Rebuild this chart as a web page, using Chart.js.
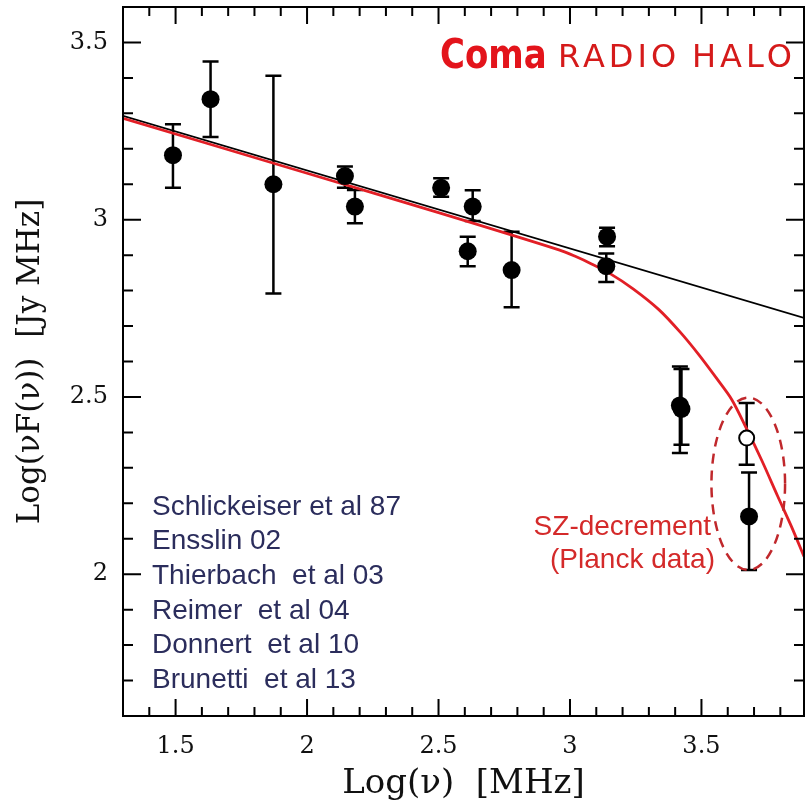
<!DOCTYPE html>
<html>
<head>
<meta charset="utf-8">
<script src="https://cdn.jsdelivr.net/npm/chart.js@4.4.1/dist/chart.umd.min.js"></script>
<style>
    html, body { margin: 0; padding: 0; background: #fff; overflow: hidden; }
    canvas { display: block; }
</style>
</head>
<body>
<canvas id="sed" width="805" height="808"></canvas>
<script>
// radio halo measurements (filled circles)
const obsX = [1.49, 1.633, 1.872, 2.144, 2.182, 2.51, 2.63, 2.611, 2.778, 3.141, 3.138, 3.418, 3.424, 3.681];
const obsY = [3.182, 3.34, 3.10, 3.123, 3.037, 3.09, 3.037, 2.911, 2.858, 2.952, 2.869, 2.476, 2.466, 2.163];
const obsHi = [3.269, 3.446, 3.406, 3.15, 3.084, 3.117, 3.083, 2.952, 2.966, 2.977, 2.905, 2.586, 2.579, 2.287];
const obsLo = [3.09, 3.233, 2.792, 3.09, 2.99, 3.065, 2.996, 2.869, 2.753, 2.925, 2.824, 2.342, 2.365, 2.012];

// SZ-corrected point (open circle)
const openX = [3.672];
const openY = [2.384];
const openHi = [2.483];
const openLo = [2.309];

// power law (black) and model with steepening (red)
const powerX = [1.3, 3.89];
const powerY = [3.293, 2.723];
const modelX = [1.3, 2.0, 2.5, 2.958, 3.022, 3.08, 3.148, 3.24, 3.337, 3.42, 3.489, 3.555, 3.615, 3.672, 3.73, 3.79, 3.842, 3.89];
const modelY = [3.286, 3.131, 3.02, 2.915, 2.896, 2.876, 2.85, 2.805, 2.747, 2.682, 2.62, 2.555, 2.493, 2.41, 2.32, 2.22, 2.135, 2.05];

const xTickVals = [1.5, 2, 2.5, 3, 3.5];
const xTickLabels = ["1.5", "2", "2.5", "3", "3.5"];
const yTickVals = [2, 2.5, 3, 3.5];
const yTickLabels = ["2", "2.5", "3", "3.5"];

const refs = [
    "Schlickeiser et al 87",
    "Ensslin 02",
    "Thierbach  et al 03",
    "Reimer  et al 04",
    "Donnert  et al 10",
    "Brunetti  et al 13"
];

const xRange = [1.3, 3.89];
const yRange = [1.6, 3.6];

const toPoints = (xs, ys) => xs.map((x, i) => ({ x: x, y: ys[i] }));

function drawErrorBars(chart, xs, los, his) {
    const ctx = chart.ctx;
    const sx = chart.scales.x, sy = chart.scales.y;
    ctx.save();
    ctx.strokeStyle = "#000";
    ctx.lineWidth = 2.5;
    xs.forEach((x, i) => {
        const px = sx.getPixelForValue(x);
        const top = sy.getPixelForValue(his[i]);
        const bot = sy.getPixelForValue(los[i]);
        ctx.beginPath();
        ctx.moveTo(px, top); ctx.lineTo(px, bot);
        ctx.moveTo(px - 8, top); ctx.lineTo(px + 8, top);
        ctx.moveTo(px - 8, bot); ctx.lineTo(px + 8, bot);
        ctx.stroke();
    });
    ctx.restore();
}

const errorBarPlugin = {
    id: "errorBars",
    beforeDatasetsDraw(chart) {
        drawErrorBars(chart, obsX, obsLo, obsHi);
        drawErrorBars(chart, openX, openLo, openHi);
    }
};

const framePlugin = {
    id: "frame",
    afterDraw(chart) {
        const ctx = chart.ctx;
        const a = chart.chartArea;
        const sx = chart.scales.x, sy = chart.scales.y;
        ctx.save();
        ctx.strokeStyle = "#000";
        ctx.lineWidth = 2;
        ctx.strokeRect(a.left, a.top, a.right - a.left, a.bottom - a.top);
        ctx.beginPath();
        for (let k = Math.ceil(xRange[0] * 10); k <= Math.floor(xRange[1] * 10); k++) {
            const px = sx.getPixelForValue(k / 10);
            const len = k % 5 == 0 ? 17 : 9;
            ctx.moveTo(px, a.bottom); ctx.lineTo(px, a.bottom - len);
            ctx.moveTo(px, a.top); ctx.lineTo(px, a.top + len);
        }
        for (let k = Math.ceil(yRange[0] * 10); k <= Math.floor(yRange[1] * 10); k++) {
            const py = sy.getPixelForValue(k / 10);
            const len = k % 5 == 0 ? 18 : 10;
            ctx.moveTo(a.left, py); ctx.lineTo(a.left + len, py);
            ctx.moveTo(a.right, py); ctx.lineTo(a.right - len, py);
        }
        ctx.stroke();
        ctx.restore();
    }
};

const notesPlugin = {
    id: "notes",
    afterDatasetsDraw(chart) {
        const ctx = chart.ctx;
        const sx = chart.scales.x, sy = chart.scales.y;
        ctx.save();
        // dashed ellipse round the Planck points
        const cx = sx.getPixelForValue(3.678);
        const cy = sy.getPixelForValue(2.255);
        const rx = sx.getPixelForValue(3.678 + 0.14) - cx;
        const ry = cy - sy.getPixelForValue(2.255 + 0.243);
        ctx.strokeStyle = "#c0282c";
        ctx.lineWidth = 2.5;
        ctx.setLineDash([10, 7]);
        ctx.beginPath();
        ctx.ellipse(cx, cy, rx, ry, 0, 0, Math.PI * 2);
        ctx.stroke();
        ctx.setLineDash([]);

        // title
        ctx.fillStyle = "#e3141b";
        ctx.textBaseline = "alphabetic";
        ctx.textAlign = "left";
        ctx.save();
        ctx.translate(440, 68);
        ctx.scale(1, 1.22);
        ctx.font = "bold 34px 'DejaVu Sans'";
        ctx.fillText("Coma", 0, 0);
        ctx.restore();
        ctx.fillStyle = "#d51a1a";
        ctx.font = "32px 'DejaVu Sans'";
        ctx.letterSpacing = "4px";
        ctx.fillText("RADIO", 558, 67);
        ctx.fillText("HALO", 692, 67);
        ctx.letterSpacing = "0px";

        // references
        ctx.fillStyle = "#2b2d5c";
        ctx.font = "28px 'Liberation Sans'";
        ctx.textBaseline = "middle";
        refs.forEach((r, i) => ctx.fillText(r, 152, 507 + i * 34.6));

        // SZ label
        ctx.fillStyle = "#d42a2a";
        ctx.textAlign = "right";
        ctx.fillText("SZ-decrement", 711, 527);
        ctx.fillText("(Planck data)", 715, 560);
        ctx.restore();
    }
};

const serif = "'DejaVu Serif', 'Liberation Serif', serif";

// keep the plot box where the reference has it
const noPad = (s) => {
    s.paddingTop = 0;
    s.paddingBottom = 0;
    s.paddingLeft = 0;
    s.paddingRight = 0;
};

const config = {
    type: "scatter",
    data: {
        datasets: [
            {
                label: "observed",
                data: toPoints(obsX, obsY),
                pointRadius: 9,
                pointHoverRadius: 9,
                backgroundColor: "#000",
                borderWidth: 0,
                order: 0
            },
            {
                label: "SZ corrected",
                data: toPoints(openX, openY),
                pointRadius: 7.5,
                pointHoverRadius: 7.5,
                backgroundColor: "#fff",
                borderColor: "#000",
                borderWidth: 2,
                order: 1
            },
            {
                label: "power law",
                data: toPoints(powerX, powerY),
                showLine: true,
                pointRadius: 0,
                borderColor: "#000",
                borderWidth: 1.6,
                order: 3
            },
            {
                label: "model",
                data: toPoints(modelX, modelY),
                showLine: true,
                pointRadius: 0,
                borderColor: "#e21f26",
                borderWidth: 2.8,
                tension: 0.3,
                order: 2
            }
        ]
    },
    options: {
        responsive: false,
        animation: false,
        events: [],
        layout: { autoPadding: false, padding: { top: 7, right: 1, left: 0, bottom: 0 } },
        plugins: {
            legend: { display: false },
            tooltip: { enabled: false }
        },
        scales: {
            x: {
                type: "linear",
                min: xRange[0],
                max: xRange[1],
                afterFit: (s) => { s.height = 92; noPad(s); },
                afterBuildTicks: (s) => { s.ticks = xTickVals.map((v) => ({ value: v })); },
                grid: { display: false, drawTicks: false },
                border: { display: false },
                ticks: {
                    padding: 16,
                    color: "#111",
                    font: { family: serif, size: 24 },
                    maxRotation: 0,
                    autoSkip: false,
                    callback: (v, i) => xTickLabels[i]
                },
                title: {
                    display: true,
                    text: "Log(ν)  [MHz]",
                    color: "#111",
                    font: { family: serif, size: 34 },
                    padding: { top: 0, bottom: 3 }
                }
            },
            y: {
                type: "linear",
                min: yRange[0],
                max: yRange[1],
                afterFit: (s) => { s.width = 123; noPad(s); },
                afterBuildTicks: (s) => { s.ticks = yTickVals.map((v) => ({ value: v })); },
                grid: { display: false, drawTicks: false },
                border: { display: false },
                ticks: {
                    padding: 15,
                    color: "#111",
                    font: { family: serif, size: 24 },
                    autoSkip: false,
                    callback: (v, i) => yTickLabels[i]
                },
                title: {
                    display: true,
                    text: "Log(νF(ν))  [Jy MHz]",
                    color: "#111",
                    font: { family: serif, size: 31 },
                    padding: { top: 12, bottom: 0 }
                }
            }
        }
    },
    plugins: [errorBarPlugin, notesPlugin, framePlugin]
};

new Chart(document.getElementById("sed"), config);
</script>
</body>
</html>
